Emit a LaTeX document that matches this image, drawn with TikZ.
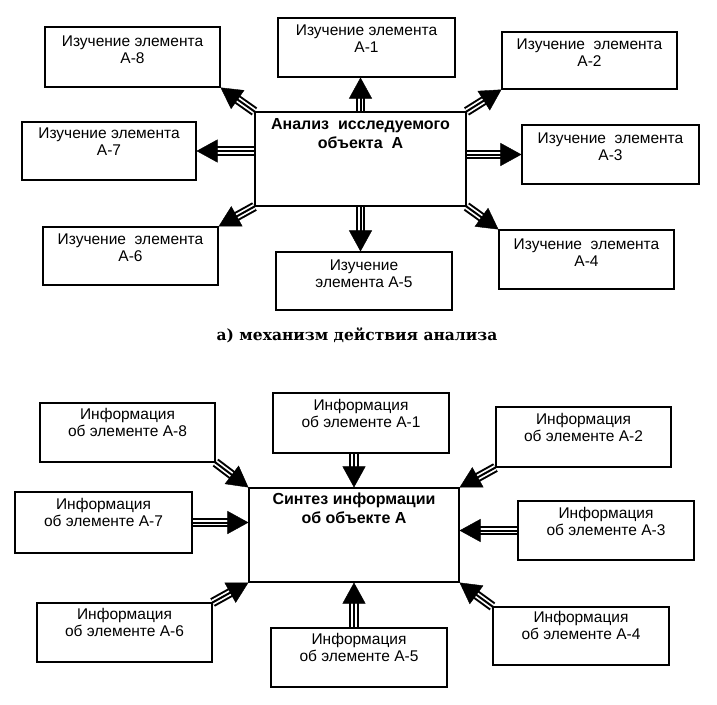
\documentclass[tikz,border=0pt]{standalone}
\usepackage{fontspec}
\setmainfont{Liberation Sans}
\newfontfamily\capfont{DejaVu Serif}
\usetikzlibrary{arrows.meta,calc,fit,backgrounds}
\newcommand\txf{\fontsize{15.5}{17.5}\selectfont}
\newcommand\bxf{\fontsize{16}{19}\selectfont\bfseries}
% box: name, x1, y1, x2, y2, baseline offset, text
\newcommand\bx[7]{%
  \coordinate (#1-a) at (#2,#3);
  \coordinate (#1-b) at (#4,#5);
  \node[boxst, fit=(#1-a)(#1-b)] (#1) {};
  \node[anchor=base, inner sep=0] (#1t) at ($(#1.north)+(0,#6)$)
    {\parbox[t]{220pt}{\centering #7}};
}
\newcommand\tarr[2]{%
  \draw[line width=9.5pt, shorten >=13pt] (#1) -- (#2);
  \draw[white, line width=5.5pt, shorten >=12pt] (#1) -- (#2);
  \draw[line width=2pt, shorten >=13pt] (#1) -- (#2);
  \draw[line width=0.4pt, -{Triangle[length=21pt,width=23pt]}] (#1) -- (#2);
}
\tikzset{boxst/.style={draw, line width=1.1pt, inner sep=0pt}}
\begin{document}
\begin{tikzpicture}[x=1pt,y=-1pt]
\useasboundingbox (0,0) rectangle (717,704);
% ---------- top part ----------
\bx{ca}{255}{112}{466}{206}{18}{\bxf Анализ\ \ исследуемого\\объекта\ \ А}
\bx{t8}{45}{27}{220}{87}{20}{\txf Изучение элемента\\А-8}
\bx{t1}{278}{18}{455}{77}{18}{\txf Изучение элемента\\А-1}
\bx{t2}{502}{32}{677}{89}{18}{\txf Изучение\ \ элемента\\А-2}
\bx{t7}{22}{122}{196}{180}{17}{\txf Изучение элемента\\А-7}
\bx{t3}{522}{125}{699}{184}{19}{\txf Изучение\ \ элемента\\А-3}
\bx{t6}{43}{227}{218}{285}{18}{\txf Изучение\ \ элемента\\А-6}
\bx{t4}{499}{230}{674}{289}{20}{\txf Изучение\ \ элемента\\А-4}
\bx{t5}{276}{252}{452}{310}{19}{\txf Изучение\\элемента А-5}
\node[anchor=base, inner sep=0] (capa) at (357,340)
  {\capfont\bfseries\fontsize{15.5}{18}\selectfont а) механизм действия анализа};
% ---------- bottom part ----------
\bx{cb}{249}{488}{459}{582}{17}{\bxf Синтез информации\\об объекте А}
\bx{b8}{40}{403}{215}{462}{17}{\txf Информация\\об элементе А-8}
\bx{b1}{273}{393}{449}{453}{18}{\txf Информация\\об элементе А-1}
\bx{b2}{496}{407}{671}{467}{18}{\txf Информация\\об элементе А-2}
\bx{b7}{15}{492}{192}{553}{18}{\txf Информация\\об элементе А-7}
\bx{b3}{518}{501}{694}{560}{18}{\txf Информация\\об элементе А-3}
\bx{b6}{37}{603}{212}{662}{17}{\txf Информация\\об элементе А-6}
\bx{b5}{271}{628}{447}{687}{17}{\txf Информация\\об элементе А-5}
\bx{b4}{493}{607}{669}{665}{16}{\txf Информация\\об элементе А-4}
\begin{pgfonlayer}{background}
% analysis: outgoing
\tarr{ca.north}{ca.north |- t1.south}
\tarr{ca.north west}{t8.south east}
\tarr{ca.north east}{t2.south west}
\tarr{ca.west |- t7.east}{t7.east}
\tarr{ca.east |- t3.west}{t3.west}
\tarr{ca.south west}{t6.north east}
\tarr{ca.south east}{t4.north west}
\tarr{ca.south}{ca.south |- t5.north}
% synthesis: incoming
\tarr{cb.north |- b1.south}{cb.north}
\tarr{b8.south east}{cb.north west}
\tarr{b2.south west}{cb.north east}
\tarr{b7.east}{cb.west |- b7.east}
\tarr{b3.west}{cb.east |- b3.west}
\tarr{b6.north east}{cb.south west}
\tarr{b4.north west}{cb.south east}
\tarr{cb.south |- b5.north}{cb.south}
\end{pgfonlayer}
\end{tikzpicture}
\end{document}
